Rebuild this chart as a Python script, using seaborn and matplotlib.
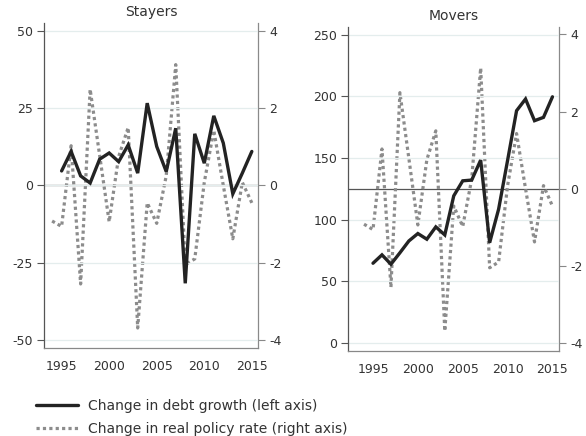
import numpy as np
import pandas as pd
import matplotlib
matplotlib.use("Agg")
import matplotlib.pyplot as plt
import seaborn as sns

# Annual data
debt_years = list(range(1995, 2016))
stayers_debt = [4.7, 11.0, 3.1, 0.8, 8.5, 10.5, 7.7, 13.1, 4.0, 26.6, 12.6,
                4.5, 18.5, -31.6, 16.7, 7.2, 22.5, 13.7, -2.7, 4.0, 11.0]
movers_debt = [64.5, 71.3, 63.7, 73.0, 82.6, 88.6, 84.0, 94.0, 87.5, 119.2, 131.4,
               132.0, 148.2, 81.2, 108.4, 148.0, 188.3, 197.8, 180.2, 182.9, 199.6]

rate_years = list(range(1994, 2016))
policy_rate = [-0.92, -1.06, 1.03, -2.55, 2.49, 0.78, -0.94, 0.75, 1.50, -3.69, -0.45,
               -0.98, 0.25, 3.13, -2.05, -1.90, 0.08, 1.43, 0.0, -1.38, 0.08, -0.45]

left_ticks_stayers = [-50, -25, 0, 25, 50]
left_ticks_movers = [0, 50, 100, 150, 200, 250]
right_ticks = [-4, -2, 0, 2, 4]
x_ticks = [1995, 2000, 2005, 2010, 2015]

panels = [
    ("Stayers", stayers_debt, left_ticks_stayers, (-52.4, 52.4), (1993.15, 2015.65),
     [0.0751, 0.2025, 0.3652, 0.7441]),
    ("Movers", movers_debt, left_ticks_movers, (-6.5, 256.5), (1992.25, 2015.76),
     [0.5944, 0.1956, 0.3600, 0.7432]),
]

sns.set_style("white")
plt.rcParams["font.family"] = ["DejaVu Sans"]

DEBT_COLOR = "#232323"
RATE_COLOR = "#8c8c8c"
TEXT_COLOR = "#333333"
GRID_COLOR = "#e4eded"

fig = plt.figure(figsize=(5.86, 4.36), dpi=100)

handles = None
for title, debt, lticks, lylim, xlim, rect in panels:
    ax = fig.add_axes(rect)
    ax2 = ax.twinx()

    debt_df = pd.DataFrame({"year": debt_years, "value": debt})
    rate_df = pd.DataFrame({"year": rate_years, "value": policy_rate})

    # Light horizontal grid on the left scale
    for t in lticks:
        ax.axhline(t, color=GRID_COLOR, lw=0.9, zorder=0)

    # Policy rate on the right scale, dotted
    sns.lineplot(data=rate_df, x="year", y="value", ax=ax2, color=RATE_COLOR,
                 lw=2.3, zorder=2)
    rate_line = ax2.lines[-1]
    rate_line.set_dashes([1.0, 1.0])
    rate_line.set_dash_capstyle("butt")
    ax2.axhline(0, color="#555555", lw=0.9, zorder=1)

    # Debt growth on the left scale, solid
    sns.lineplot(data=debt_df, x="year", y="value", ax=ax, color=DEBT_COLOR,
                 lw=2.4, zorder=3)
    line = ax.lines[-1]
    line.set_solid_joinstyle("miter")
    ax.set_zorder(ax2.get_zorder() + 1)
    ax.patch.set_visible(False)

    ax.set_ylim(*lylim)
    ax2.set_ylim(-4.2, 4.2)
    ax.set_xlim(*xlim)
    ax2.set_xlim(*xlim)
    ax.set_yticks(lticks)
    ax.set_yticklabels([str(t) for t in lticks])
    ax2.set_yticks(right_ticks)
    ax2.set_yticklabels([str(t) for t in right_ticks])
    ax.set_xticks(x_ticks)
    ax.set_xticklabels([str(t) for t in x_ticks])
    for a in (ax, ax2):
        a.set_xlabel("")
        a.set_ylabel("")

    ax.set_title(title, fontsize=10, color=TEXT_COLOR, pad=5)

    ax.tick_params(axis="y", which="both", left=True, length=5, width=0.8,
                   color="#555555", labelsize=9, labelcolor=TEXT_COLOR, pad=3)
    ax.tick_params(axis="x", length=0, labelsize=9, labelcolor=TEXT_COLOR, pad=9)
    ax2.tick_params(axis="y", right=True, length=5, width=0.8, color="#888888",
                    labelsize=9, labelcolor=TEXT_COLOR, pad=3)

    for a in (ax, ax2):
        a.spines["top"].set_visible(False)
    ax.spines["left"].set_color("#555555")
    ax.spines["left"].set_linewidth(0.9)
    ax.spines["bottom"].set_color("#888888")
    ax.spines["bottom"].set_linewidth(0.9)
    ax.spines["right"].set_visible(False)
    ax2.spines["left"].set_visible(False)
    ax2.spines["bottom"].set_visible(False)
    ax2.spines["right"].set_color("#8a8a8a")
    ax2.spines["right"].set_linewidth(0.9)

    if handles is None:
        handles = (line, rate_line)

fig.legend(handles=list(handles),
           labels=["Change in debt growth (left axis)",
                   "Change in real policy rate (right axis)"],
           loc="upper left", bbox_to_anchor=(0.062, 0.086), frameon=False,
           fontsize=10, handlelength=3.0, handletextpad=0.75, labelspacing=0.7,
           labelcolor=TEXT_COLOR, borderaxespad=0, borderpad=0)

fig.savefig("out.png", dpi=100)
